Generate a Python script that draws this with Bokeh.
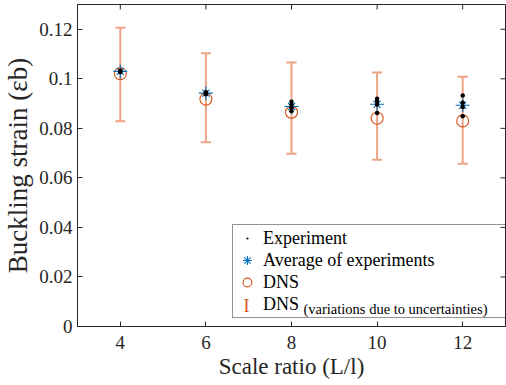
import math
from bokeh.plotting import figure
from bokeh.models import (ColumnDataSource, Legend, LegendItem, Label,
                          FixedTicker, Range1d)
from bokeh.embed import file_html
from bokeh.resources import INLINE

# ---- data ----
scale_ratio = [4, 6, 8, 10, 12]
dns = [0.1021, 0.0918, 0.0865, 0.0841, 0.0830]
dns_upper = [0.1206, 0.1103, 0.1066, 0.1025, 0.1008]
dns_lower = [0.0829, 0.0744, 0.0697, 0.0673, 0.0657]
avg_exp = [0.1030, 0.0942, 0.0888, 0.0897, 0.0893]
exp_x = [4, 4, 4, 6, 6, 6, 8, 8, 8, 8, 10, 10, 10, 10, 12, 12, 12, 12]
exp_y = [0.1027, 0.1030, 0.1033, 0.0938, 0.0942, 0.0946,
         0.0907, 0.0894, 0.0883, 0.0869,
         0.0919, 0.0910, 0.0896, 0.0862,
         0.0933, 0.0903, 0.0886, 0.0849]
x_ticks = [4, 6, 8, 10, 12]
y_ticks = [0, 0.02, 0.04, 0.06, 0.08, 0.1, 0.12]
y_tick_labels = ["0", "0.02", "0.04", "0.06", "0.08", "0.1", "0.12"]
x_lim = (3, 13)
y_lim = (0, 0.13)

FONT = "Liberation Serif"
AX = "#262626"
BLUE = "#0072BD"
ORANGE = "#D95319"
ERR = "#EEA386"

p = figure(width=506, height=385, output_backend="svg", toolbar_location=None,
           x_range=Range1d(*x_lim), y_range=Range1d(*y_lim),
           min_border_left=73, min_border_right=1, min_border_top=4, min_border_bottom=59)
p.grid.visible = False
p.outline_line_color = AX
p.outline_line_width = 1

for ax in (p.xaxis[0], p.yaxis[0]):
    ax.axis_line_color = AX
    ax.major_tick_line_color = AX
    ax.major_tick_in = 5
    ax.major_tick_out = 0
    ax.minor_tick_line_color = None
    ax.major_label_text_font = FONT
    ax.major_label_text_color = AX
    ax.major_label_text_font_size = "19px"
    ax.axis_label_text_font = FONT
    ax.axis_label_text_font_style = "normal"
    ax.axis_label_text_color = AX

p.xaxis.ticker = FixedTicker(ticks=x_ticks)
p.yaxis.ticker = FixedTicker(ticks=y_ticks)
p.yaxis.major_label_overrides = {t: l for t, l in zip(y_ticks, y_tick_labels)}
p.xaxis.major_label_standoff = 9
p.yaxis.major_label_standoff = 5
p.xaxis.axis_label = "Scale ratio (L/l)"
p.xaxis.axis_label_text_font_size = "23px"
p.xaxis.axis_label_standoff = 2
p.yaxis.axis_label = "Buckling strain (εb)"
p.yaxis.axis_label_text_font_size = "27px"
p.yaxis.axis_label_standoff = 3

# inward ticks on the top and right edges of the box (half of each dash is clipped)
tick_src_r = ColumnDataSource(dict(x=[x_lim[1]] * len(y_ticks), y=y_ticks))
tick_src_t = ColumnDataSource(dict(x=x_ticks, y=[y_lim[1]] * len(x_ticks)))
p.scatter(x="x", y="y", source=tick_src_r, marker="dash", size=10, line_color=AX, line_width=1)
p.scatter(x="x", y="y", source=tick_src_t, marker="dash", angle=math.pi / 2, size=10,
          line_color=AX, line_width=1)

# ---- glyphs ----
err_src = ColumnDataSource(dict(x=scale_ratio, lo=dns_lower, hi=dns_upper, dns=dns, avg=avg_exp))
exp_src = ColumnDataSource(dict(x=exp_x, y=exp_y))

p.segment(x0="x", y0="lo", x1="x", y1="hi", source=err_src, line_color=ERR, line_width=2)
p.scatter(x="x", y="hi", source=err_src, marker="dash", size=10, line_color=ERR, line_width=2)
p.scatter(x="x", y="lo", source=err_src, marker="dash", size=10, line_color=ERR, line_width=2)
err_icon = p.scatter(x="x", y="dns", source=err_src, marker="dash", size=10,
                     line_color=ERR, line_alpha=0)
dns_r = p.scatter(x="x", y="dns", source=err_src, marker="circle", size=12,
                  fill_color=None, line_color=ORANGE, line_width=1.1)
avg_plus = p.scatter(x="x", y="avg", source=err_src, marker="cross", size=14,
                     line_color=BLUE, line_width=1.1)
avg_x = p.scatter(x="x", y="avg", source=err_src, marker="x", size=10,
                  line_color=BLUE, line_width=1.1)
exp_r = p.scatter(x="x", y="y", source=exp_src, marker="dot", size=18,
                  fill_color="black", line_color="black")

legend = Legend(items=[
    LegendItem(label="Experiment", renderers=[exp_r]),
    LegendItem(label="Average of experiments", renderers=[avg_plus, avg_x]),
    LegendItem(label="DNS", renderers=[dns_r]),
    LegendItem(label="DNS", renderers=[err_icon]),
], location=(155, 8), padding=2, glyph_width=24, glyph_height=22,
    label_standoff=4, spacing=0, label_height=22, label_width=240,
    label_text_font=FONT, label_text_font_size="18px", label_text_color="black",
    border_line_color=AX, border_line_width=1, background_fill_alpha=0,
    margin=0)
p.add_layout(legend, "center")

# error-bar legend icon and the smaller explanatory text
p.add_layout(Label(x=169, y=21, x_units="screen", y_units="screen", text="I",
                   text_font=FONT, text_font_size="18px", text_color=ORANGE,
                   text_align="center", text_baseline="middle", level="overlay"))
p.add_layout(Label(x=226, y=18, x_units="screen", y_units="screen",
                   text="(variations due to uncertainties)",
                   text_font=FONT, text_font_size="14.5px", text_color="black",
                   text_baseline="alphabetic", level="overlay"))

open("out.html", "w").write(file_html(p, INLINE))
